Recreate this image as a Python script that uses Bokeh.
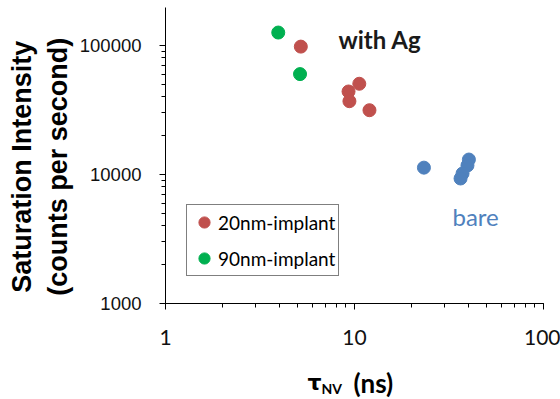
from bokeh.plotting import figure
from bokeh.models import Label, Range1d, NumeralTickFormatter
from bokeh.layouts import column
from bokeh.core.properties import value
from bokeh.embed import file_html
from bokeh.resources import INLINE

# Data (tau_NV in ns, saturation intensity in counts/s)
red_x = [5.2, 10.6, 9.3, 9.4, 12.0]
red_y = [98000, 50500, 44000, 37000, 31500]
green_x = [3.95, 5.15]
green_y = [126000, 60000]
blue_x = [23.3, 40.3, 39.6, 37.3, 36.4]
blue_y = [11300, 13060, 11750, 10180, 9310]

RED = "#c0504d"
GREEN = "#00b050"
BLUE = "#4f81bd"

p = figure(width=560, height=352, x_axis_type="log", y_axis_type="log",
           x_range=Range1d(1, 100), y_range=Range1d(1000, 197000),
           output_backend="svg", toolbar_location=None,
           min_border_left=165, min_border_right=17, min_border_top=7,
           min_border_bottom=49)
p.outline_line_color = None
p.grid.visible = False

p.scatter(red_x, red_y, size=13, color=RED, legend_label="20nm-implant")
p.scatter(green_x, green_y, size=13, color=GREEN, legend_label="90nm-implant")
p.scatter(blue_x, blue_y, size=13, color=BLUE)

for ax in (p.xaxis[0], p.yaxis[0]):
    ax.axis_line_color = "black"
    ax.major_tick_line_color = "black"
    ax.minor_tick_line_color = "black"
    ax.major_tick_in = 0
    ax.major_tick_out = 6
    ax.minor_tick_in = 0
    ax.minor_tick_out = 4
    ax.formatter = NumeralTickFormatter(format="0")

NB = "\u00a0\u00a0\u00a0"
p.yaxis.major_label_text_font = "Liberation Sans"
p.yaxis.major_label_text_font_size = "18.5px"
p.yaxis.major_label_text_color = "#111111"
p.yaxis.major_label_standoff = 18
p.yaxis.axis_label = "Saturation Intensity" + NB + "\n(counts per second)" + NB
p.yaxis.axis_label_text_font = "Liberation Sans"
p.yaxis.axis_label_text_font_style = "bold"
p.yaxis.axis_label_text_font_size = "27px"
p.yaxis.axis_label_text_color = "black"
p.yaxis.axis_label_standoff = 4

p.xaxis.major_label_text_font = "Lato"
p.xaxis.major_label_text_font_size = "21px"
p.xaxis.major_label_text_color = "#111111"
p.xaxis.major_label_standoff = 20
p.xaxis.axis_label = None

p.add_layout(Label(x=173, y=250, x_units="screen", y_units="screen", text="with Ag",
                   text_font="Lato", text_font_size="24px", text_font_style="bold",
                   text_color="#1a1a1a"))
p.add_layout(Label(x=287, y=73, x_units="screen", y_units="screen", text="bare",
                   text_font="Lato", text_font_size="24px",
                   text_color=BLUE))

lg = p.legend[0]
lg.location = (21, 27)
lg.border_line_color = "black"
lg.border_line_width = 1
lg.background_fill_alpha = 1
lg.padding = 3
lg.margin = 0
lg.spacing = 8
lg.glyph_width = 28
lg.glyph_height = 28
lg.label_height = 20
lg.label_standoff = -6
lg.label_text_font = "Lato"
lg.label_text_font_size = "19px"
lg.label_text_color = "black"

# x axis title strip (frame aligned with main plot's frame: 165..543 px)
p2 = figure(width=560, height=47, x_range=Range1d(165, 543), y_range=Range1d(0, 47),
            output_backend="svg", toolbar_location=None,
            x_axis_location=None, y_axis_location=None, min_border=0)
p2.outline_line_color = None
p2.grid.visible = False
p2.text(x=[307], y=[17], text=["τ"], text_font=value("DejaVu Sans"), text_font_size="22px",
        text_font_style="bold", text_color="black", text_baseline="alphabetic")
p2.text(x=[321], y=[11], text=["NV"], text_font=value("Lato"), text_font_size="14px",
        text_font_style="bold", text_color="black", text_baseline="alphabetic")
p2.text(x=[353], y=[17], text=["(ns)"], text_font=value("Lato"), text_font_size="26px",
        text_font_style="bold", text_color="black", text_baseline="alphabetic")

open("out.html", "w").write(file_html(column(p, p2, spacing=0), INLINE))
